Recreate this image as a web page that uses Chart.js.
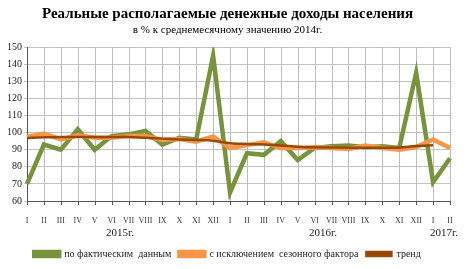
<!DOCTYPE html>
<html>
<head>
<meta charset="utf-8">
<script src="https://cdn.jsdelivr.net/npm/chart.js@4"></script>
<style>
  html, body { margin: 0; padding: 0; background: #fff; }
  #wrap { width: 467px; height: 269px; }
</style>
</head>
<body>
<div id="wrap"><canvas id="c" width="467" height="269"></canvas></div>
<script>
// Реальные располагаемые денежные доходы, % к среднемесячному 2014г.
const months = ["I","II","III","IV","V","VI","VII","VIII","IX","X","XI","XII",
                "I","II","III","IV","V","VI","VII","VIII","IX","X","XI","XII",
                "I","II"];
const years = [
  { label: "2015г.", from: 0, to: 11 },
  { label: "2016г.", from: 12, to: 23 },
  { label: "2017г.", from: 24, to: 25 },
];
const actual = [70, 93, 90, 102, 90, 98, 99, 101, 93, 97, 96, 145,
                65, 88, 87, 95, 84, 91, 92, 92.5, 91.5, 92, 91, 135,
                71, 85];
const seasonal = [97.5, 99.5, 96, 98.5, 97, 97, 98, 98, 95.7, 96.3, 94.7, 97.8,
                  91, 92.7, 94.3, 91, 91, 91.5, 91, 90.4, 92.4, 91, 90, 91.5,
                  96, 91];
const trend = [96.8, 97.3, 97.5, 97.5, 97.5, 97.5, 97.5, 97, 96.5, 96, 95.7, 95.3,
               93.8, 93.4, 93, 92.5, 91.8, 91.4, 91.3, 91.2, 91.2, 91.1, 91.2, 92.2,
               92.6, null];
const yTicks = [60, 70, 80, 90, 100, 110, 120, 130, 140, 150];

const SERIF = "'Liberation Serif', 'DejaVu Serif', serif";

// вертикальная сетка и засечки по оси X, подписи годов
const xGridAndYears = {
  id: "xGridAndYears",
  beforeDatasetsDraw(chart) {
    const x = chart.scales.x, ca = chart.chartArea, ctx = chart.ctx;
    ctx.save();
    ctx.lineWidth = 1;
    for (let i = 0; i < months.length; i++) {
      const px = Math.round(x.getPixelForValue(i)) + 0.5;
      ctx.strokeStyle = i === 0 ? "#555" : "#bcbcbc";
      ctx.beginPath();
      ctx.moveTo(px, ca.top);
      ctx.lineTo(px, ca.bottom);
      ctx.stroke();
      ctx.strokeStyle = "#555";
      ctx.beginPath();
      ctx.moveTo(px, ca.bottom);
      ctx.lineTo(px, ca.bottom + 4);
      ctx.stroke();
    }
    ctx.restore();
  },
  afterDraw(chart) {
    const x = chart.scales.x, ctx = chart.ctx;
    ctx.save();
    ctx.font = "11px " + SERIF;
    ctx.fillStyle = "#222";
    ctx.textAlign = "center";
    ctx.textBaseline = "middle";
    years.forEach(y => {
      let cx = (x.getPixelForValue(y.from) + x.getPixelForValue(y.to)) / 2;
      if (y.to - y.from < 3) cx = x.getPixelForValue(y.to) - 6;
      ctx.fillText(y.label, cx, x.bottom - 8);
    });
    ctx.restore();
  }
};

new Chart(document.getElementById("c"), {
  type: "line",
  data: {
    labels: months,
    datasets: [
      { label: "по фактическим  данным", data: actual, borderColor: "#77933c", backgroundColor: "#77933c",
        borderWidth: 4.5, pointRadius: 0, tension: 0, order: 3 },
      { label: "с исключением  сезонного фактора", data: seasonal, borderColor: "#f79646", backgroundColor: "#f79646",
        borderWidth: 4.5, pointRadius: 0, tension: 0, order: 2 },
      { label: "тренд", data: trend, borderColor: "#984807", backgroundColor: "#984807",
        borderWidth: 2.5, pointRadius: 0, tension: 0.3, order: 1 },
    ],
  },
  options: {
    responsive: false,
    animation: false,
    layout: { padding: { left: 5, right: 17, top: 0, bottom: 0 } },
    plugins: {
      title: {
        display: true,
        text: "Реальные располагаемые денежные доходы населения",
        color: "#000",
        font: { family: SERIF, size: 15, weight: "bold" },
        padding: { top: 5, bottom: 1 },
      },
      subtitle: {
        display: true,
        text: "в % к среднемесячному значению 2014г.",
        color: "#000",
        font: { family: SERIF, size: 11 },
        padding: { top: 0, bottom: 10 },
      },
      legend: {
        position: "bottom",
        labels: {
          boxWidth: 25, boxHeight: 4, padding: 8, color: "#222",
          font: { family: SERIF, size: 10 },
          sort: (a, b) => a.datasetIndex - b.datasetIndex,
        },
      },
      tooltip: { enabled: false },
    },
    scales: {
      x: {
        type: "category",
        offset: false,
        grid: { display: false },
        border: { color: "#555" },
        ticks: { color: "#333", font: { family: SERIF, size: 8 }, padding: 7, maxRotation: 0, autoSkip: false },
        afterFit(s) { s.height = 40; },
      },
      y: {
        min: 60, max: 150,
        afterBuildTicks(s) { s.ticks = yTicks.map(v => ({ value: v })); },
        grid: { color: "#c4c4c4", tickLength: 3 },
        border: { color: "#555" },
        ticks: { color: "#222", font: { family: SERIF, size: 10 }, padding: 2 },
      },
    },
  },
  plugins: [xGridAndYears],
});
</script>
</body>
</html>
